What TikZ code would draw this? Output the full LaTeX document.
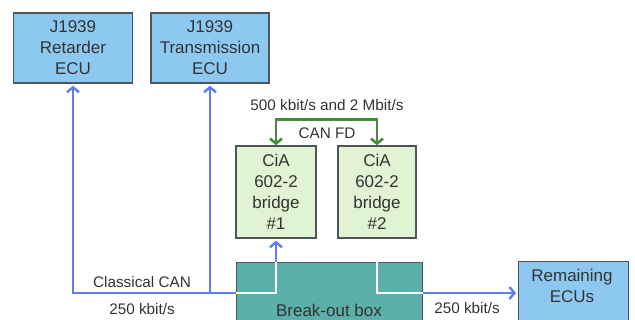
\documentclass[tikz,border=0pt]{standalone}
\usepackage{fontspec}
\setmainfont{Liberation Sans}
\usepackage{xcolor}
\usepackage{tikz}
\usetikzlibrary{arrows.meta,positioning,calc}

\definecolor{ecublue}{RGB}{140,200,240}
\definecolor{bridgegreen}{RGB}{224,243,210}
\definecolor{boxteal}{RGB}{92,176,170}
\definecolor{busblue}{RGB}{95,125,242}
\definecolor{fdgreen}{RGB}{70,140,60}
\definecolor{edgegrey}{RGB}{75,85,90}

\begin{document}
\begin{tikzpicture}[
  x=1pt, y=-1pt,
  boxtext/.style={align=center, text=black!80, font=\fontsize{17}{21}\selectfont},
  ecu/.style={draw=edgegrey, line width=1.4pt, fill=ecublue, inner sep=0pt, boxtext},
  bridge/.style={draw=edgegrey, line width=1.4pt, fill=bridgegreen, inner sep=0pt, minimum width=80pt, minimum height=92pt, boxtext},
  lbl/.style={text=black!80, font=\fontsize{15.3}{18}\selectfont},
  bus/.style={busblue, line width=2.2pt},
  inbox/.style={white, line width=2.2pt},
  arr/.style={bus, -{Straight Barb[length=5pt,width=12pt,line width=2.4pt]}, shorten >=2pt},
  fdarr/.style={fdgreen, line width=2.6pt, {Straight Barb[length=5pt,width=12pt,line width=2.6pt]}-{Straight Barb[length=5pt,width=12pt,line width=2.6pt]}}
]
  \useasboundingbox (0,0) rectangle (635,320);
  \clip (0,0) rectangle (635,320);

  \node[ecu, minimum width=119pt, minimum height=70pt] (ret) at (73,48) {J1939\\Retarder\\ECU};
  \node[ecu, minimum width=118pt, minimum height=70pt] (trans) at (210,48) {J1939\\Transmission\\ECU};
  \node[bridge] (br1) at (276,192) {CiA\\602-2\\bridge\\\#1};
  \node[bridge, minimum width=78pt] (br2) at (377,192) {CiA\\602-2\\bridge\\\#2};
  \node[draw=edgegrey, line width=1pt, fill=boxteal, minimum width=186pt, minimum height=96pt, anchor=north, boxtext] (bob) at (329,262) {Break-out box};
  \node[ecu, minimum width=110pt, minimum height=80pt, anchor=north west] (rem) at (518,261) {};
  \node[boxtext] (remtxt) at (572,286) {Remaining\\ECUs};

  \node[lbl] (classic) at (142,282) {Classical CAN};
  \node[lbl] (rateleft) at (142,309) {250 kbit/s};
  \node[lbl] (rateright) at (467,308) {250 kbit/s};
  \node[lbl] (ratefd) at (327,105) {500 kbit/s and 2 Mbit/s};
  \node[lbl] (fd) at (327,133) {CAN FD};

  \coordinate (tap) at (210,293);
  \coordinate (inl) at (bob.west |- tap);
  \coordinate (inr) at (bob.east |- tap);
  \coordinate (up1) at (br1.south |- bob.north);
  \coordinate (up2) at (br2.south |- bob.north);

  \draw[arr] (inl) -| (ret.south);
  \draw[arr] (tap) -- (trans.south);
  \draw[inbox] (inl) -| (up1);
  \draw[arr] (up1) -- (br1.south);
  \draw[inbox] (up2) |- (inr);
  \draw[arr] (inr) -- (inr -| rem.west);
  \draw[fdarr] (br1.north) -- ++(0,-26) -| (br2.north);
\end{tikzpicture}
\end{document}
